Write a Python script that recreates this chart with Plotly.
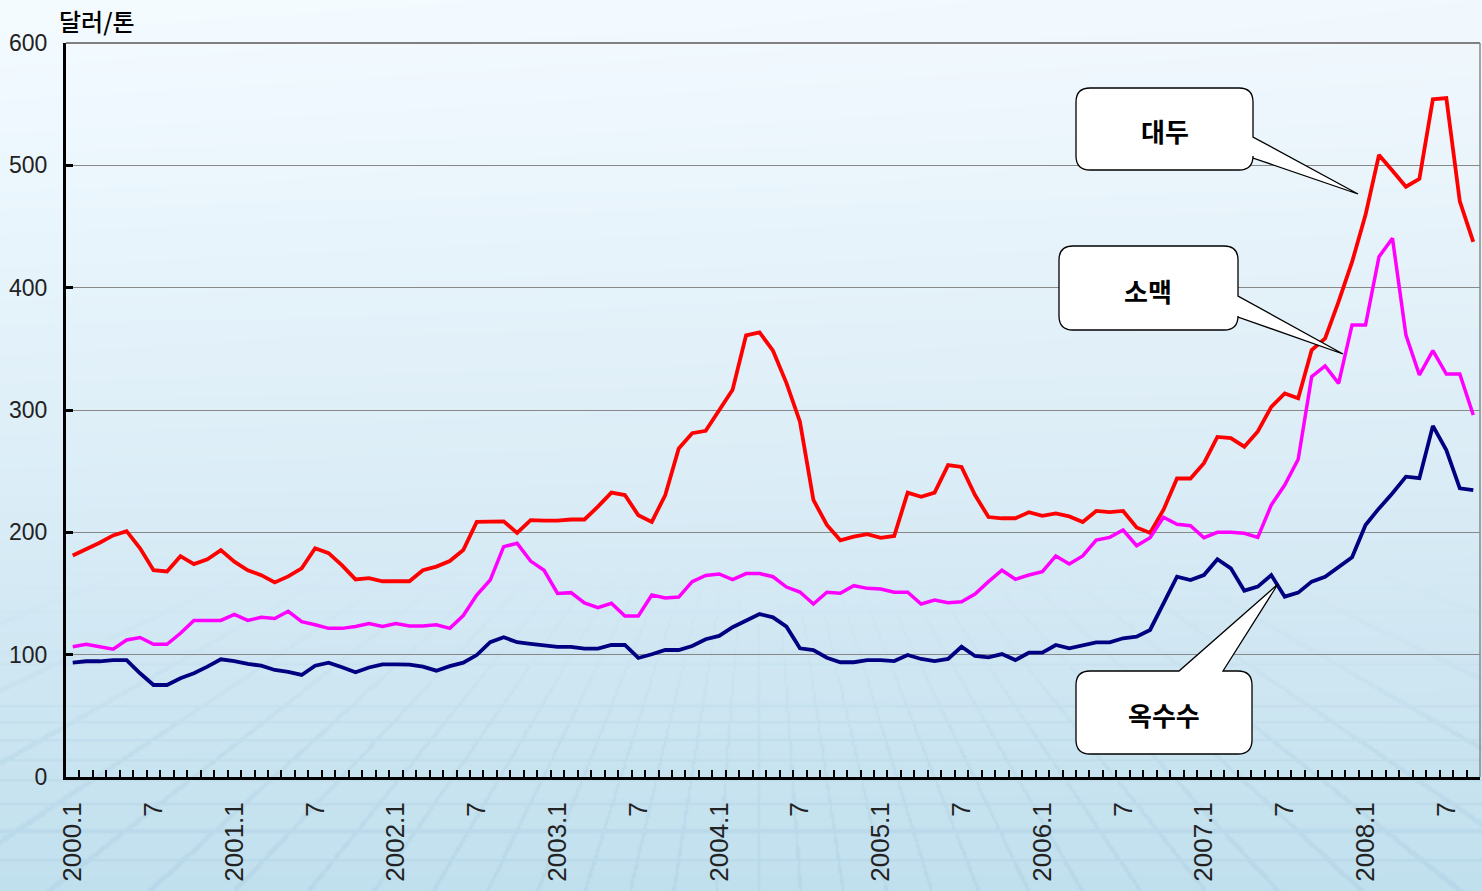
import base64
import struct
import zlib

import numpy as np
import plotly.graph_objects as go

# ---------------- data (USD / ton, monthly 2000.1 - 2008.9) ----------------
months = [f"{2000 + i // 12}.{i % 12 + 1}" for i in range(105)]

soybean = [181, 186, 191.5, 197.5, 201, 187, 169, 168, 180.5, 174, 178, 185.5,
           176, 169, 165, 159, 164, 170.5, 187, 183, 173, 161.5, 162.5, 160,
           160, 160, 169, 172, 176.5, 185.5, 208.5, 209, 209, 199.5, 210, 209.5,
           209.5, 210.5, 210.5, 221, 232.5, 230.5, 214, 208.5, 230.5, 268.5, 281, 283,
           300, 316.5, 361, 363.5, 348.5, 322, 290.5, 226.5, 206, 193.5, 196.5, 198.5,
           195.5, 197, 232.5, 229, 232.5, 255, 253.5, 230.5, 212.5, 211.5, 211.5, 216.5,
           213.5, 215.5, 213, 208.5, 217.5, 216.5, 217.5, 204, 199.5, 218.5, 244, 244,
           256.5, 278, 277, 270, 282.5, 302.5, 313.5, 309.5, 349, 358.5, 388.5, 421,
           459.5, 508.5, 495.5, 482.5, 489, 554, 555, 470.5, 437.5]

wheat = [106.5, 108.5, 106.5, 104.5, 112, 114, 108.5, 108.5, 117.5, 128, 128, 128,
         133, 128, 130.5, 129.5, 135.5, 127, 124.5, 121.5, 121.5, 123, 125.5, 123,
         125.5, 123.5, 123.5, 124.5, 121.5, 132, 148.8, 161, 188.3, 191, 176.5, 169,
         150, 150.7, 142.3, 138.5, 142, 131.6, 131.6, 148.8, 146.3, 147.1, 159.7, 164.7,
         166, 161.3, 166.3, 166.3, 163.7, 155.3, 151.2, 141.4, 151, 150.2, 156.4, 154.2,
         153.7, 151, 151, 141.4, 144.7, 142.5, 143.3, 149.6, 159.7, 169, 161.6, 165.1,
         167.8, 180.7, 174.1, 180.7, 193.7, 195.9, 201.9, 189.1, 195.6, 212.3, 206.6, 205.4,
         195.6, 200, 200, 199.2, 195.9, 222.3, 238.7, 259.7, 327.2, 336, 321.8, 369.5,
         369.5, 425.3, 440.4, 361.3, 328.6, 348.5, 329.4, 329.4, 295.9]

corn = [93.5, 94.6, 94.6, 95.6, 95.6, 84.8, 75.2, 75.2, 80.7, 84.8, 90.2, 96.2,
        94.8, 92.4, 91, 87.5, 86, 83.4, 91, 93.5, 89.7, 85.6, 89.5, 92.1,
        92.1, 91.8, 90.2, 86.9, 90.6, 93.5, 99.7, 110.2, 114.2, 110.2, 108.9, 107.5,
        106.3, 106.3, 104.9, 104.9, 107.9, 107.9, 97.3, 100.3, 103.8, 103.8, 107.1, 112.6,
        115.3, 122.4, 127.8, 133.2, 130.5, 122.9, 105.2, 103.8, 97.5, 93.8, 93.8, 95.6,
        95.6, 94.8, 99.7, 96.5, 94.8, 96.5, 106.5, 98.9, 97.8, 100.5, 95.6, 101.6,
        101.6, 107.9, 105.2, 107.9, 110.1, 110.1, 113.4, 114.7, 120.2, 142, 163.7, 161,
        165.1, 178, 170.6, 152.3, 155.6, 165.1, 147.4, 150.7, 159.7, 163.7, 171.4, 179.6,
        206, 219.6, 231.9, 245.5, 244.2, 287, 267.3, 236, 234.6]

tick_labels = ["2000.1", "7", "2001.1", "7", "2002.1", "7", "2003.1", "7", "2004.1", "7",
               "2005.1", "7", "2006.1", "7", "2007.1", "7", "2008.1", "7"]
y_ticks = [0, 100, 200, 300, 400, 500, 600]
unit_label = "달러/톤"
series_names = ["대두", "소맥", "옥수수"]

# ---------------- geometry ----------------
W, H = 1482, 891
ML, MR, MT, MB = 66, 2, 43, 114
PW, PH = W - ML - MR, H - MT - MB
n = len(months)
xs = list(range(n))
XR = [-0.5, n - 0.5]
YR = [0, 600]


def px2x(px):
    return XR[0] + (px - ML) / PW * (XR[1] - XR[0])


def py2y(py):
    return YR[0] + (H - MB - py) / PH * (YR[1] - YR[0])


# ---------------- background image (gradient + faint perspective floor) ----------------
def make_png(arr):
    h, w, _ = arr.shape
    raw = b"".join(b"\x00" + arr[i].tobytes() for i in range(h))

    def chunk(t, d):
        return struct.pack(">I", len(d)) + t + d + struct.pack(">I", zlib.crc32(t + d) & 0xFFFFFFFF)

    return (b"\x89PNG\r\n\x1a\n" + chunk(b"IHDR", struct.pack(">IIBBBBB", w, h, 8, 2, 0, 0, 0))
            + chunk(b"IDAT", zlib.compress(raw, 9)) + chunk(b"IEND", b""))


bw, bh = 741, 446
Y, X = np.meshgrid(np.arange(bh) / bh * H, np.arange(bw) / bw * W, indexing="ij")
t = (Y / H)[..., None]
xn = (X / W)[..., None]
top = np.array([242, 249, 254], float)
mid = np.array([218, 236, 246], float)
bot = np.array([193, 224, 238], float)
col = np.where(t < 0.55, top + (mid - top) * (t / 0.55), mid + (bot - mid) * ((t - 0.55) / 0.45))
col = col + (1 - xn) * 3 * (1 - t)

# faint perspective floor grid in the lower part of the picture
floor = Y > 560
vx, vy = 760.0, 330.0  # vanishing point
ang = np.arctan2(Y - vy, X - vx)
ray = np.abs((ang / 0.075 + 0.5) % 1 - 0.5)
mask_r = (ray < 0.035) & floor
depth = 1.0 / np.maximum(Y - vy, 1)
rows = np.abs(((depth * 9000) + 0.5) % 1 - 0.5)
mask_h = (rows < 0.04) & floor
shade = np.zeros((bh, bw))
shade[mask_r] = 1
shade[mask_h] = 1
fade = np.clip((Y - 560) / 200, 0, 1)
col = col - (shade * fade)[..., None] * np.array([10, 8, 5])

img = np.clip(col, 0, 255).astype(np.uint8)
bg_uri = "data:image/png;base64," + base64.b64encode(make_png(img)).decode()

# ---------------- figure ----------------
fig = go.Figure()
colors = ["#ff0000", "#ff00ff", "#000080"]
for name, vals, c, w in zip(series_names, [soybean, wheat, corn], colors, [3.8, 3.5, 3.8]):
    fig.add_trace(go.Scatter(x=xs, y=vals, mode="lines", name=name,
                             line=dict(color=c, width=w), showlegend=False,
                             hovertemplate="%{text}: %{y}<extra>" + name + "</extra>",
                             text=months))

# invisible trace to carry the label axis
fig.add_trace(go.Scatter(x=[XR[0] - 10], y=[-100], xaxis="x2", mode="markers",
                         marker=dict(opacity=0), showlegend=False, hoverinfo="skip"))

fig.update_layout(
    width=W, height=H,
    margin=dict(l=ML, r=MR, t=MT, b=MB, pad=0),
    paper_bgcolor="#dcecf5",
    plot_bgcolor="rgba(0,0,0,0)",
    xaxis=dict(range=XR, tickmode="array", tickvals=[i + 0.5 for i in range(n - 1)],
               ticks="inside", ticklen=7, tickwidth=2, tickcolor="black",
               showticklabels=False, showgrid=False, zeroline=False,
               showline=True, linecolor="black", linewidth=3),
    xaxis2=dict(range=XR, overlaying="x", anchor="y", side="bottom",
                tickmode="array", tickvals=[i * 6 for i in range(len(tick_labels))],
                ticktext=tick_labels, tickangle=-90, ticks="",
                showgrid=False, zeroline=False, showline=False,
                ticklabelstandoff=19,
                tickfont=dict(family="Liberation Sans, Arial, sans-serif", size=26, color="#222")),
    yaxis=dict(range=YR, tickmode="array", tickvals=y_ticks,
               ticks="inside", ticklen=7, tickwidth=2.5, tickcolor="black",
               showline=True, linecolor="black", linewidth=3,
               showgrid=True, gridcolor="#888888", gridwidth=1.4, zeroline=False,
               ticklabelstandoff=11, automargin=False,
               tickfont=dict(family="Liberation Sans Narrow, Arial Narrow, Liberation Sans, Arial, sans-serif",
                             size=23, color="#222")),
    images=[dict(source=bg_uri, xref="paper", yref="paper",
                 x=-ML / PW, y=1 + MT / PH, sizex=W / PW, sizey=H / PH,
                 xanchor="left", yanchor="top", sizing="stretch", layer="below")],
    font=dict(family="Noto Sans CJK KR, sans-serif"),
)

# frame: top and right borders
fig.add_shape(type="line", xref="paper", yref="paper", x0=0, x1=1, y0=1, y1=1,
              line=dict(color="#808080", width=2))
fig.add_shape(type="line", xref="paper", yref="paper", x0=1, x1=1, y0=0, y1=1,
              line=dict(color="#8a8a8a", width=1.5))

# unit label
fig.add_annotation(text=unit_label, xref="paper", yref="paper",
                   x=(57 - ML) / PW, y=(H - MB - 20) / PH, xanchor="left", yanchor="middle",
                   showarrow=False,
                   font=dict(family="Noto Sans CJK KR", size=24, color="black", weight=500))


# speech-bubble callouts (pixel boxes converted to data coordinates)
def bubble(L, T, R, B, wedge, r=14):
    def P(px, py):
        return f"{px2x(px):.4f},{py2y(py):.4f}"

    side, a, tip, b = wedge
    d = f"M{P(L + r, T)}"
    if side == "top":
        d += f" L{P(a, T)} L{P(*tip)} L{P(b, T)}"
    d += f" L{P(R - r, T)} Q{P(R, T)} {P(R, T + r)}"
    if side == "right":
        d += f" L{P(R, a)} L{P(*tip)} L{P(R, b)}"
    d += f" L{P(R, B - r)} Q{P(R, B)} {P(R - r, B)}"
    d += f" L{P(L + r, B)} Q{P(L, B)} {P(L, B - r)}"
    d += f" L{P(L, T + r)} Q{P(L, T)} {P(L + r, T)} Z"
    return d


callouts = [
    (series_names[0], (1076, 88, 1253, 170), ("right", 137, (1358, 194), 158), (1165, 130)),
    (series_names[1], (1059, 246, 1238, 330), ("right", 296, (1343, 354), 317), (1148, 290)),
    (series_names[2], (1076, 671, 1252, 754), ("top", 1179, (1278, 584), 1223), (1164, 714)),
]
for label, (L, T, R, B), wedge, (cx, cy) in callouts:
    fig.add_shape(type="path", xref="x", yref="y", path=bubble(L, T, R, B, wedge),
                  fillcolor="white", line=dict(color="black", width=1.3), layer="above")
    fig.add_annotation(text=label, xref="x", yref="y", x=px2x(cx), y=py2y(cy),
                       showarrow=False,
                       font=dict(family="Noto Sans CJK KR", size=26, color="black", weight=600))

fig.write_html("out.html", config={"displayModeBar": False},
               post_script="document.body.style.margin='0';document.body.style.overflow='hidden';")
